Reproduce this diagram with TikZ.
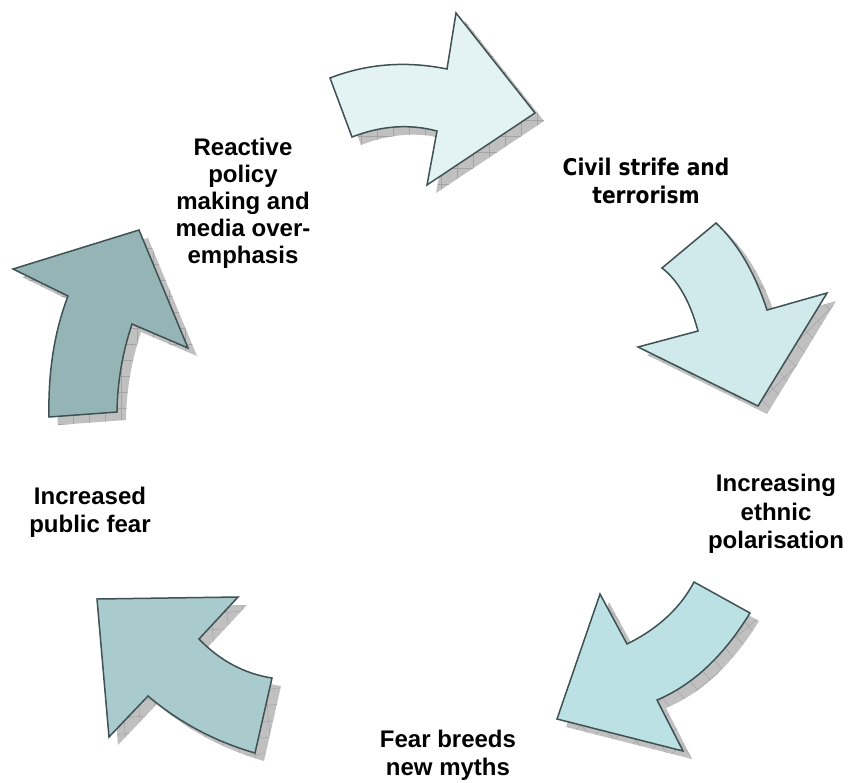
\documentclass[tikz,border=0pt]{standalone}
\usepackage{fontspec}
\setmainfont{Liberation Sans}
\newfontfamily\civfont{DejaVu Sans Bold}[FakeStretch=0.88]
\definecolor{aone}{HTML}{E3F2F3}
\definecolor{atwo}{HTML}{D0E9EB}
\definecolor{athree}{HTML}{BCE1E4}
\definecolor{afour}{HTML}{AACBCD}
\definecolor{afive}{HTML}{95B4B6}
\definecolor{outl}{HTML}{3F5152}
\definecolor{shadowgray}{HTML}{C0C0C0}
\definecolor{gridgray}{HTML}{A4A4A4}
\tikzset{
  arrowline/.style={draw=outl, line width=1.5pt, line join=miter},
  gridline/.style={draw=gridgray, line width=0.5pt},
  lbl/.style={inner sep=0pt, align=center, font=\fontsize{24}{27.5}\selectfont\bfseries},
}
% #1 path, #2 fill, #3 grid angle, #4 centre
\newcommand\shadedarrow[4]{%
  \begin{scope}[shift={(9,8)}]
    \fill[shadowgray] #1;
    \begin{scope}
      \clip #1;
      \draw[gridline, step=16pt, rotate around={#3:#4}] ($#4+(-200,-200)$) grid ($#4+(200,200)$);
    \end{scope}
  \end{scope}
  \filldraw[arrowline, fill=#2] #1;
}
\usetikzlibrary{calc}
\begin{document}
\begin{tikzpicture}[x=1pt,y=-1pt]
\useasboundingbox (0,0) rectangle (850,782);
% arrow 1 (top)
\shadedarrow{(330,78) .. controls (367,63.67) and (406,60.67) .. (447,69) -- (456,13) -- (535,113) -- (427,185) -- (437,131) .. controls (409.33,123.67) and (381,125.67) .. (352,137) -- cycle}{aone}{0}{(430,100)}
% arrow 2 (right upper)
\shadedarrow{(662,268) -- (716,223) .. controls (737.67,243.33) and (754.67,272.33) .. (767,310) -- (827,293) -- (758,406) -- (638,347) -- (698,331) .. controls (690,301.33) and (678,280.33) .. cycle}{atwo}{45}{(730,310)}
% arrow 3 (right lower)
\shadedarrow{(694,582) -- (750,613) .. controls (723.67,656) and (692.67,685) .. (657,700) -- (683,751) -- (557,719) -- (600,594) -- (627,644) .. controls (658,628.67) and (680.33,608) .. cycle}{athree}{40}{(650,670)}
% arrow 4 (left lower)
\shadedarrow{(97,599) -- (238,597) -- (199,639) .. controls (220,660.67) and (244.33,673.67) .. (272,678) -- (255,753) .. controls (214.67,741.33) and (179,722.33) .. (148,696) -- (109,737) -- cycle}{afour}{5}{(180,675)}
% arrow 5 (left upper)
\shadedarrow{(139,230) -- (188,348) -- (132,324) .. controls (122.33,353.33) and (117.33,382.67) .. (117,412) -- (49,417) .. controls (48,372) and (54.33,331.67) .. (68,296) -- (13,269) -- cycle}{afive}{0}{(100,320)}
% labels
\node[lbl, font=\fontsize{24}{27}\selectfont\bfseries] (reactive) at (243,203) {Reactive\\policy\\making and\\media over-\\emphasis};
\node[lbl, font=\civfont\fontsize{23}{28}\selectfont] (civil) at (646,181) {Civil strife and\\terrorism};
\node[lbl, font=\fontsize{24}{28.5}\selectfont\bfseries] (ethnic) at (776,514) {Increasing\\ethnic\\polarisation};
\node[lbl, font=\fontsize{24}{28}\selectfont\bfseries] (fear) at (90,512) {Increased\\public fear};
\node[lbl, font=\fontsize{24}{28}\selectfont\bfseries] (myths) at (448,755) {Fear breeds\\new myths};
\end{tikzpicture}
\end{document}
